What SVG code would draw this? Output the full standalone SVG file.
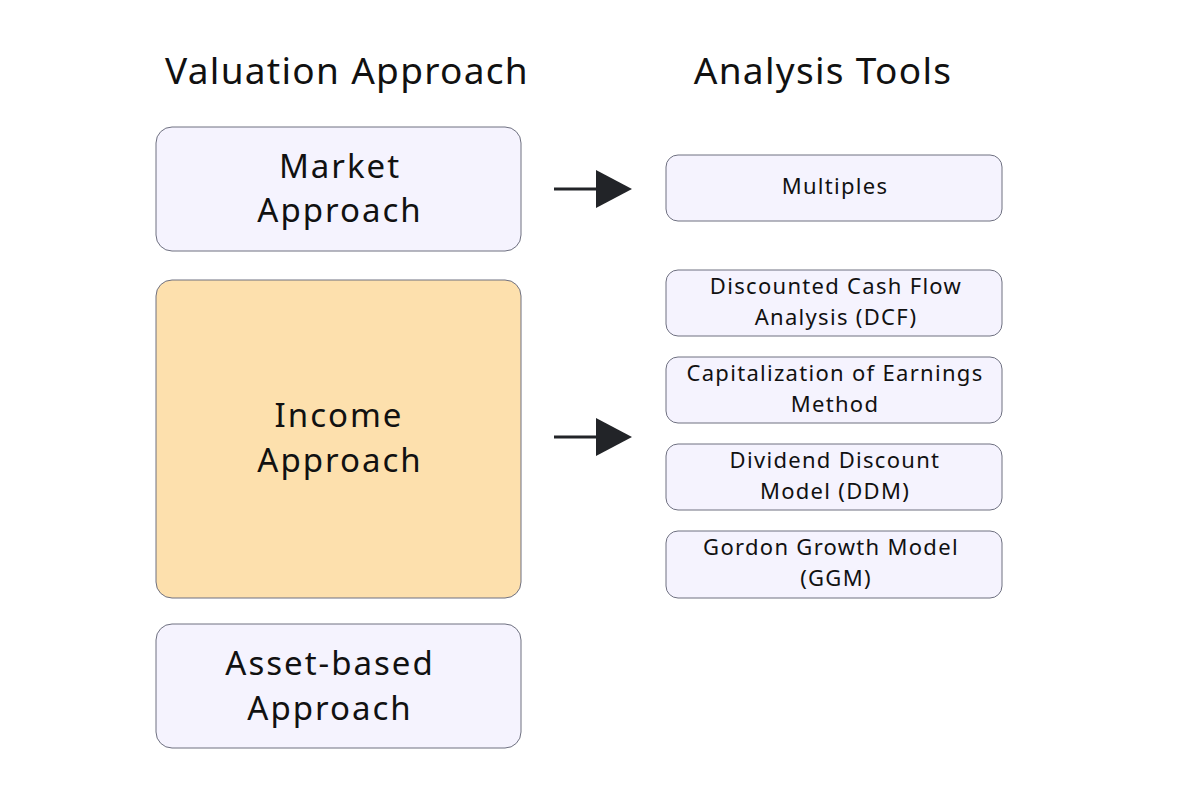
<svg xmlns="http://www.w3.org/2000/svg" width="1193" height="800" viewBox="0 0 1193 800">
<style>
.bg{fill:#ffffff}
.box{fill:#f5f3fe;stroke:#6e7080;stroke-width:1}
.hi{fill:#fde0ad;stroke:#6e7080;stroke-width:1}
text{font-family:"Noto Sans","Lato",sans-serif;fill:#111111;text-anchor:middle}
.title{font-size:37px;letter-spacing:1.3px}
.big{font-size:33px;letter-spacing:2px}
.small{font-size:22px;letter-spacing:1.3px}
.conn{stroke:#222428;stroke-width:3;fill:none}
.head{fill:#222428}
</style>
<rect class="bg" x="0" y="0" width="1193" height="800"/>
<g id="titles">
<text class="title" x="347" y="84">Valuation Approach</text>
<text class="title" x="823" y="84">Analysis Tools</text>
</g>
<g id="market">
<rect class="box" x="156" y="127" width="365" height="124" rx="16"/>
<text class="big" x="340" y="178">Market</text>
<text class="big" x="340" y="222">Approach</text>
</g>
<g id="income">
<rect class="hi" x="156" y="280" width="365" height="318" rx="16"/>
<text class="big" x="339" y="427">Income</text>
<text class="big" x="340" y="472">Approach</text>
</g>
<g id="asset">
<rect class="box" x="156" y="624" width="365" height="124" rx="16"/>
<text class="big" x="330" y="675">Asset-based</text>
<text class="big" x="330" y="720">Approach</text>
</g>
<g id="multiples">
<rect class="box" x="666" y="155" width="336" height="66" rx="12"/>
<text class="small" x="835" y="194">Multiples</text>
</g>
<g id="dcf">
<rect class="box" x="666" y="270" width="336" height="66" rx="12"/>
<text class="small" x="836" y="294">Discounted Cash Flow</text>
<text class="small" x="836" y="325">Analysis (DCF)</text>
</g>
<g id="cap">
<rect class="box" x="666" y="357" width="336" height="66" rx="12"/>
<text class="small" x="835" y="381">Capitalization of Earnings</text>
<text class="small" x="835" y="412">Method</text>
</g>
<g id="ddm">
<rect class="box" x="666" y="444" width="336" height="66" rx="12"/>
<text class="small" x="835" y="468">Dividend Discount</text>
<text class="small" x="835" y="499">Model (DDM)</text>
</g>
<g id="ggm">
<rect class="box" x="666" y="531" width="336" height="67" rx="12"/>
<text class="small" x="831" y="555">Gordon Growth Model</text>
<text class="small" x="836" y="586">(GGM)</text>
</g>
<g id="connectors">
<line class="conn" x1="554" y1="189" x2="598" y2="189"/>
<polygon class="head" points="596,170 632,189 596,208"/>
<line class="conn" x1="554" y1="437" x2="598" y2="437"/>
<polygon class="head" points="596,418 632,437 596,456"/>
</g>
</svg>
